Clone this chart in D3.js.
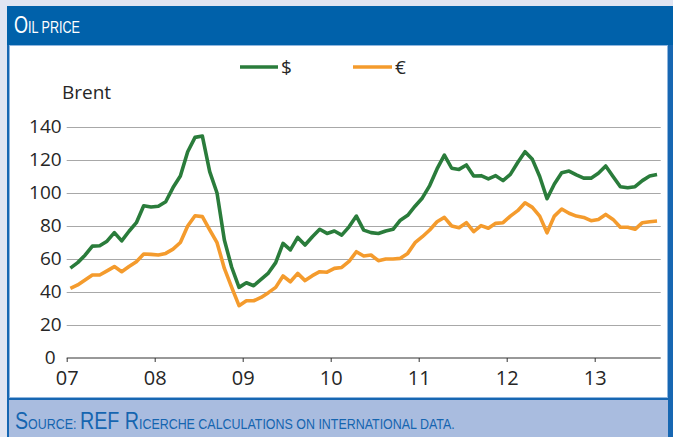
<!DOCTYPE html>
<html><head><meta charset="utf-8">
<script src="https://cdn.jsdelivr.net/npm/d3@7"></script>
<style>
html,body{margin:0;padding:0;background:#e0e5f2;}
svg{display:block;}
</style></head>
<body>
<svg id="c" width="673" height="437"></svg>
<script>
// ---- data (monthly Brent, Jan 2007 – Sep 2013) ----
const yearLabels = ["07","08","09","10","11","12","13"];
const yTickValues = [0,20,40,60,80,100,120,140];
const seriesNames = ["$","€"];
const usd = [
  54.5,57.8,62.3,67.8,68,70.8,76,71,76.8,82,92.3,91.5,
  92,94.7,103.3,110.3,125,133.7,134.5,113,100,71.5,55,42.8,
  45.6,43.8,47.6,51.5,57.8,69.5,65.5,73.1,68.5,73.5,78,75.5,
  77,74.5,79.5,86,77.5,76,75.5,77,78,83.5,86.5,92,
  97,104.5,114.6,123,115,114.3,117,110.3,110.5,108.5,110.5,107.5,
  111.3,118.5,125,120.4,110,96.5,105.5,112.3,113.3,111,109,109,
  112,116.4,110,103.8,103.2,103.8,107.5,110.3,111.2
];
const eur = [
  42.2,44.3,47.3,50.3,50.3,52.8,55.4,52.3,55.5,58.4,63,62.8,
  62.4,63.4,66,70,80,86.2,85.7,77.6,69.9,54.3,42.8,31.7,
  34.7,34.7,36.7,39.6,42.8,49.7,46.2,51.3,46.9,49.9,52.3,52,
  54.3,54.9,58.5,64.4,61.8,62.4,59,60,60,60.4,63.4,69.9,
  73.5,77.6,82.6,85.2,80,79,82,76.6,80.2,78.6,81.6,82,
  86,89.3,94.1,91.3,86,75.9,86,90.3,87.7,86,85.2,83.2,
  84,87,84,79.2,79.2,78,82,82.6,83
];

const svg = d3.select("#c");
const W = 673, H = 437;
const blue = "#0061aa", frameBlue = "#1767b2";

// background & frame
svg.append("rect").attr("width",W).attr("height",H).attr("fill","#e0e5f2");
svg.append("rect").attr("x",7).attr("y",6).attr("width",W-7).attr("height",H-6).attr("fill",frameBlue);
svg.append("rect").attr("x",7).attr("y",6).attr("width",W-7).attr("height",39).attr("fill",blue);
svg.append("rect").attr("x",9.5).attr("y",45.5).attr("width",658).attr("height",352)
  .attr("fill","#fff").attr("stroke","#8fb6df").attr("stroke-width",1);
svg.append("rect").attr("x",9).attr("y",400).attr("width",659).attr("height",37).attr("fill","#a9bcdf");

const narrow = "'Liberation Sans','Arial',sans-serif";
function smallCaps(parts, x0, y0, target, color){
  const g = svg.append("g");
  const t = g.append("text").attr("x",0).attr("y",0).attr("fill",color).attr("font-family",narrow);
  parts.forEach(([s,sz])=>t.append("tspan").attr("font-size",sz).text(s));
  const len = t.node().getComputedTextLength();
  g.attr("transform",`translate(${x0},${y0}) scale(${target/len},1)`);
}
smallCaps([["O",23],["IL PRICE",16]], 14, 33, 66, "#fff");
smallCaps([["S",24.5],["OURCE: ",15.5],["REF R",24.5],["ICERCHE CALCULATIONS ON INTERNATIONAL DATA.",15.5]],
  15, 429, 440, "#1565b0");

// scales
const x = d3.scaleLinear().domain([0, 81]).range([66.7, 660.7]);
const y = d3.scaleLinear().domain([0, 140]).range([358, 127]);

const font = "'Open Sans','Noto Sans',sans-serif";

// y grid + labels
const ga = svg.append("g").attr("transform",`translate(${x(0)},0)`)
  .call(d3.axisLeft(y).tickValues(yTickValues).tickSize(-(x(81)-x(0))).tickPadding(5));
ga.select(".domain").remove();
ga.selectAll(".tick line").attr("stroke", d => d===0 ? "none" : "#a8a8a8").attr("stroke-width",1);
ga.selectAll(".tick text").attr("font-family",font).attr("font-size",19).attr("fill","#262626")
  .attr("dy","0.28em").attr("x", d => d===0 ? -11 : -5);

// x axis
const xa = svg.append("g").attr("transform",`translate(0,${y(0)})`)
  .call(d3.axisBottom(x).tickValues(d3.range(0,73,12)).tickSize(4).tickPadding(9)
    .tickFormat((d,i)=>yearLabels[i]));
xa.select(".domain").attr("stroke","#333").attr("d",`M${x(0)},0H${x(81)}`);
xa.selectAll(".tick line").attr("stroke","#333");
xa.selectAll(".tick text").attr("font-family",font).attr("font-size",20).attr("fill","#262626");

// "Brent"
svg.append("text").attr("x",62).attr("y",99).attr("font-family",font).attr("font-size",19)
  .attr("fill","#262626").text("Brent");

// lines
const colors = ["#2a7c3b","#f49b2d"];
const line = d3.line().x((d,i)=>x(i+0.5)).y(d=>y(d)).curve(d3.curveLinear);
[eur, usd].forEach((s,k)=>{
  svg.append("path").attr("d",line(s)).attr("fill","none")
    .attr("stroke", colors[1-k]).attr("stroke-width",3.6).attr("stroke-linejoin","round");
});

// legend
const leg = [[240,278,281],[353,392,395]];
seriesNames.forEach((n,i)=>{
  svg.append("line").attr("x1",leg[i][0]).attr("x2",leg[i][1]).attr("y1",67).attr("y2",67)
    .attr("stroke",colors[i]).attr("stroke-width",3.6);
  svg.append("text").attr("x",leg[i][2]).attr("y",74).attr("font-family",font).attr("font-size",19)
    .attr("fill","#262626").text(n);
});
</script>
</body></html>
